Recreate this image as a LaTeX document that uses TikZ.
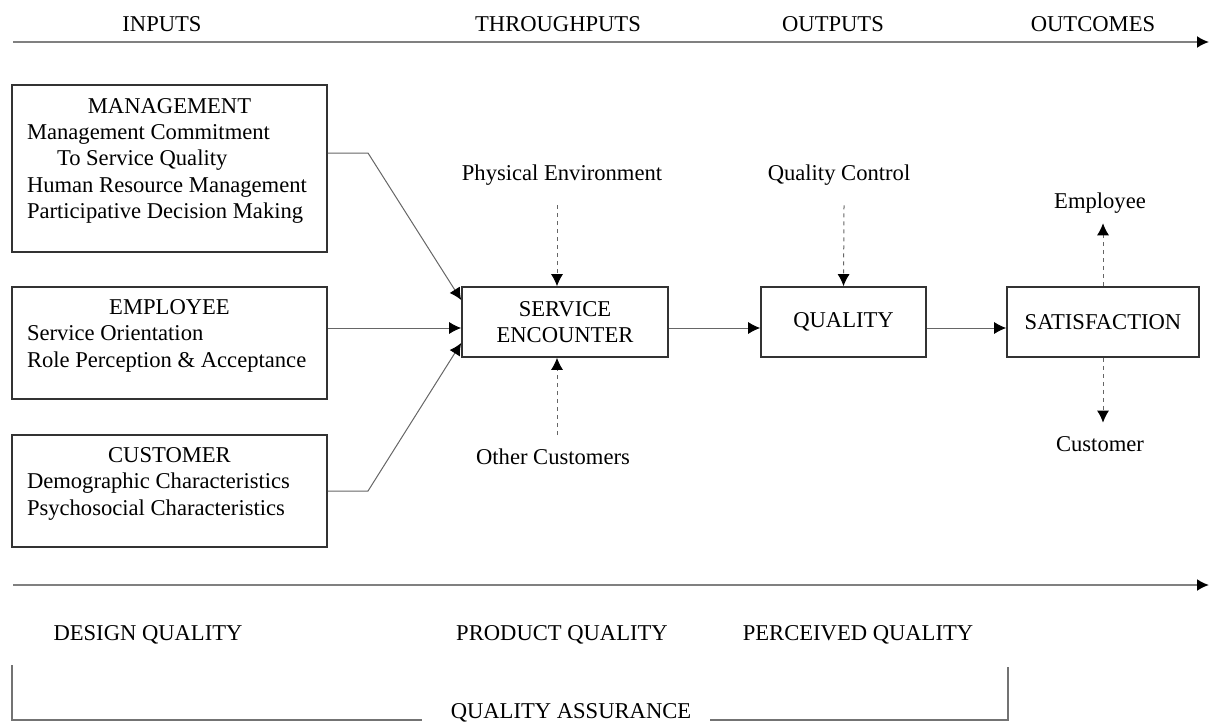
\documentclass[tikz,border=0pt]{standalone}
\usepackage{fontspec}
\setmainfont{Liberation Serif}
\usetikzlibrary{arrows.meta}

\begin{document}
\begin{tikzpicture}[x=0.5pt,y=-0.5pt,font=\fontsize{11.3}{13.1}\selectfont,
	tip/.style={-{Latex[length=6pt,width=6pt,color=black]}},
	axis/.style={black!50,line width=1pt,tip},
	conn/.style={black!60,line width=0.5pt,tip},
	dots/.style={conn,dash pattern=on 2pt off 2pt},
	bracket/.style={black!55,line width=0.8pt},
	inbox/.style={draw=black!80,line width=0.8pt,minimum width=157.5pt,text width=142.5pt,inner xsep=7.5pt,align=flush left},
	flowbox/.style={draw=black!80,line width=0.8pt,minimum height=35pt,inner sep=0pt,align=center},
	lbl/.style={anchor=base,inner sep=0pt}]
\useasboundingbox (0,0) rectangle (1213,722);
% stages along the top
\draw[axis] (13,42) -- (1209,42);
\node[lbl] (inputs) at (162,32) {INPUTS};
\node[lbl] (through) at (558,32) {THROUGHPUTS};
\node[lbl] (outputs) at (833,32) {OUTPUTS};
\node[lbl] (outcomes) at (1093,32) {OUTCOMES};
% input boxes
\node[inbox,minimum height=83.5pt,text depth=62.5pt] (mgmt) at (169.5,168.5) {\makebox[\hsize]{MANAGEMENT}\\
	Management Commitment\\ \hspace*{15pt}To Service Quality\\ Human Resource Management\\ Participative Decision Making};
\node[inbox,minimum height=56pt,text depth=35.7pt] (emp) at (169.5,343) {\makebox[\hsize]{EMPLOYEE}\\
	Service Orientation\\ Role Perception \& Acceptance};
\node[inbox,minimum height=56pt,text depth=35.7pt] (cust) at (169.5,491) {\makebox[\hsize]{CUSTOMER}\\
	Demographic Characteristics\\ Psychosocial Characteristics};
% main chain
\node[flowbox,minimum width=103pt] (serv) at (565,322) {SERVICE\\ENCOUNTER};
\node[flowbox,minimum width=82.5pt] (qual) at (843.5,322) {QUALITY};
\node[flowbox,minimum width=96pt] (sat) at (1103,322) {SATISFACTION};
\node[lbl] (phys) at (562,180) {Physical Environment};
\node[lbl] (other) at (553,464) {Other Customers};
\node[lbl] (qc) at (839,180) {Quality Control};
\node[lbl] (semp) at (1100,208) {Employee};
\node[lbl] (scust) at (1100,451) {Customer};
\coordinate (mbend) at (368,153);
\coordinate (cbend) at (368,491);
\draw[conn] (mgmt.east |- mbend) -- (mbend) -- ([yshift=11pt]serv.west);
\draw[conn] ([yshift=7.5pt]emp.east) -- ([yshift=-3pt]serv.west);
\draw[conn] (cust.east |- cbend) -- (cbend) -- ([yshift=-10.5pt]serv.west);
\draw[conn] ([yshift=-3pt]serv.east) -- ([yshift=-3pt]qual.west);
\draw[conn] ([yshift=-3pt]qual.east) -- ([yshift=-3pt]sat.west);
\draw[dots] ([xshift=-2.5pt,yshift=-10pt]phys.south) -- ([xshift=-4pt]serv.north);
\draw[dots] ([xshift=2pt,yshift=6.5pt]other.north) -- ([xshift=-4pt]serv.south);
\draw[dots] ([xshift=2.5pt,yshift=-10pt]qc.south) -- (qual.north);
\draw[dots] (sat.north) -- ([xshift=1.5pt,yshift=-5pt]semp.south);
\draw[dots] (sat.south) -- ([xshift=1.5pt,yshift=6.5pt]scust.north);
% quality along the bottom
\draw[axis] (13,585) -- (1209,585);
\node[lbl] (design) at (148,640) {DESIGN QUALITY};
\node[lbl] (product) at (562,640) {PRODUCT QUALITY};
\node[lbl] (perceived) at (858,640) {PERCEIVED QUALITY};
\node[lbl] (assure) at (571,718) {QUALITY ASSURANCE};
\draw[bracket] (12,665) -- (12,720) -- (422,720);
\draw[bracket] (710,720) -- (1008,720) -- (1008,667);
\end{tikzpicture}
\end{document}
